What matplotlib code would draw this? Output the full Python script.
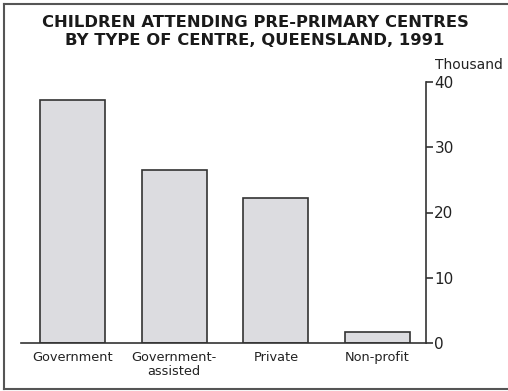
import matplotlib
matplotlib.use("Agg")
import matplotlib.pyplot as plt
from matplotlib.lines import Line2D

categories = ["Government", "Government-\nassisted", "Private", "Non-profit"]
values = [37.2, 26.5, 22.2, 1.7]
yticks = [0, 10, 20, 30, 40]

plt.rcParams["font.family"] = ["DejaVu Sans"]

W, H = 508, 391
fig = plt.figure(figsize=(W / 100, H / 100), dpi=100)

# plot area in pixel terms
left_px, right_px = 21, 426
zero_px, top_px = 343, 82
ax = fig.add_axes([left_px / W, (H - zero_px) / H,
                   (right_px - left_px) / W, (zero_px - top_px) / H])

x = range(len(categories))
ax.bar(x, values, width=0.64, color="#dcdce0", edgecolor="#333333", linewidth=1.2)
ax.set_xlim(-0.507, 3.477)
ax.set_ylim(0, 40)

for s in ("left", "top"):
    ax.spines[s].set_visible(False)
for s in ("right", "bottom"):
    ax.spines[s].set_color("#333333")
    ax.spines[s].set_linewidth(1.2)

ax.yaxis.tick_right()
ax.set_yticks(yticks)
ax.set_yticklabels([str(t) for t in yticks])
ax.tick_params(axis="y", direction="out", length=5, width=1.2, color="#333333",
               labelsize=11, pad=1, labelcolor="#222222")
ax.set_xticks(list(x))
ax.set_xticklabels(categories, fontsize=9.3, color="#222222", linespacing=1.05)
ax.tick_params(axis="x", length=0, pad=6)

fig.text(435 / W, 1 - 65 / H, "Thousand", fontsize=10, color="#222222",
         ha="left", va="center")

fig.text(255 / W, 1 - 22.5 / H, "CHILDREN ATTENDING PRE-PRIMARY CENTRES",
         fontsize=11.8, fontweight="bold", ha="center", va="center", color="#1a1a1a")
fig.text(255 / W, 1 - 40.5 / H, "BY TYPE OF CENTRE, QUEENSLAND, 1991",
         fontsize=11.8, fontweight="bold", ha="center", va="center", color="#1a1a1a")

# surrounding frame (open on the right)
frame_kw = dict(color="#555555", linewidth=1.5, transform=fig.transFigure)
fig.add_artist(Line2D([4 / W, 1], [1 - 4 / H, 1 - 4 / H], **frame_kw))
fig.add_artist(Line2D([4 / W, 4 / W], [1 - 4 / H, 1 - 389 / H], **frame_kw))
fig.add_artist(Line2D([4 / W, 1], [1 - 389 / H, 1 - 389 / H], **frame_kw))

fig.savefig("out.png", dpi=100)
